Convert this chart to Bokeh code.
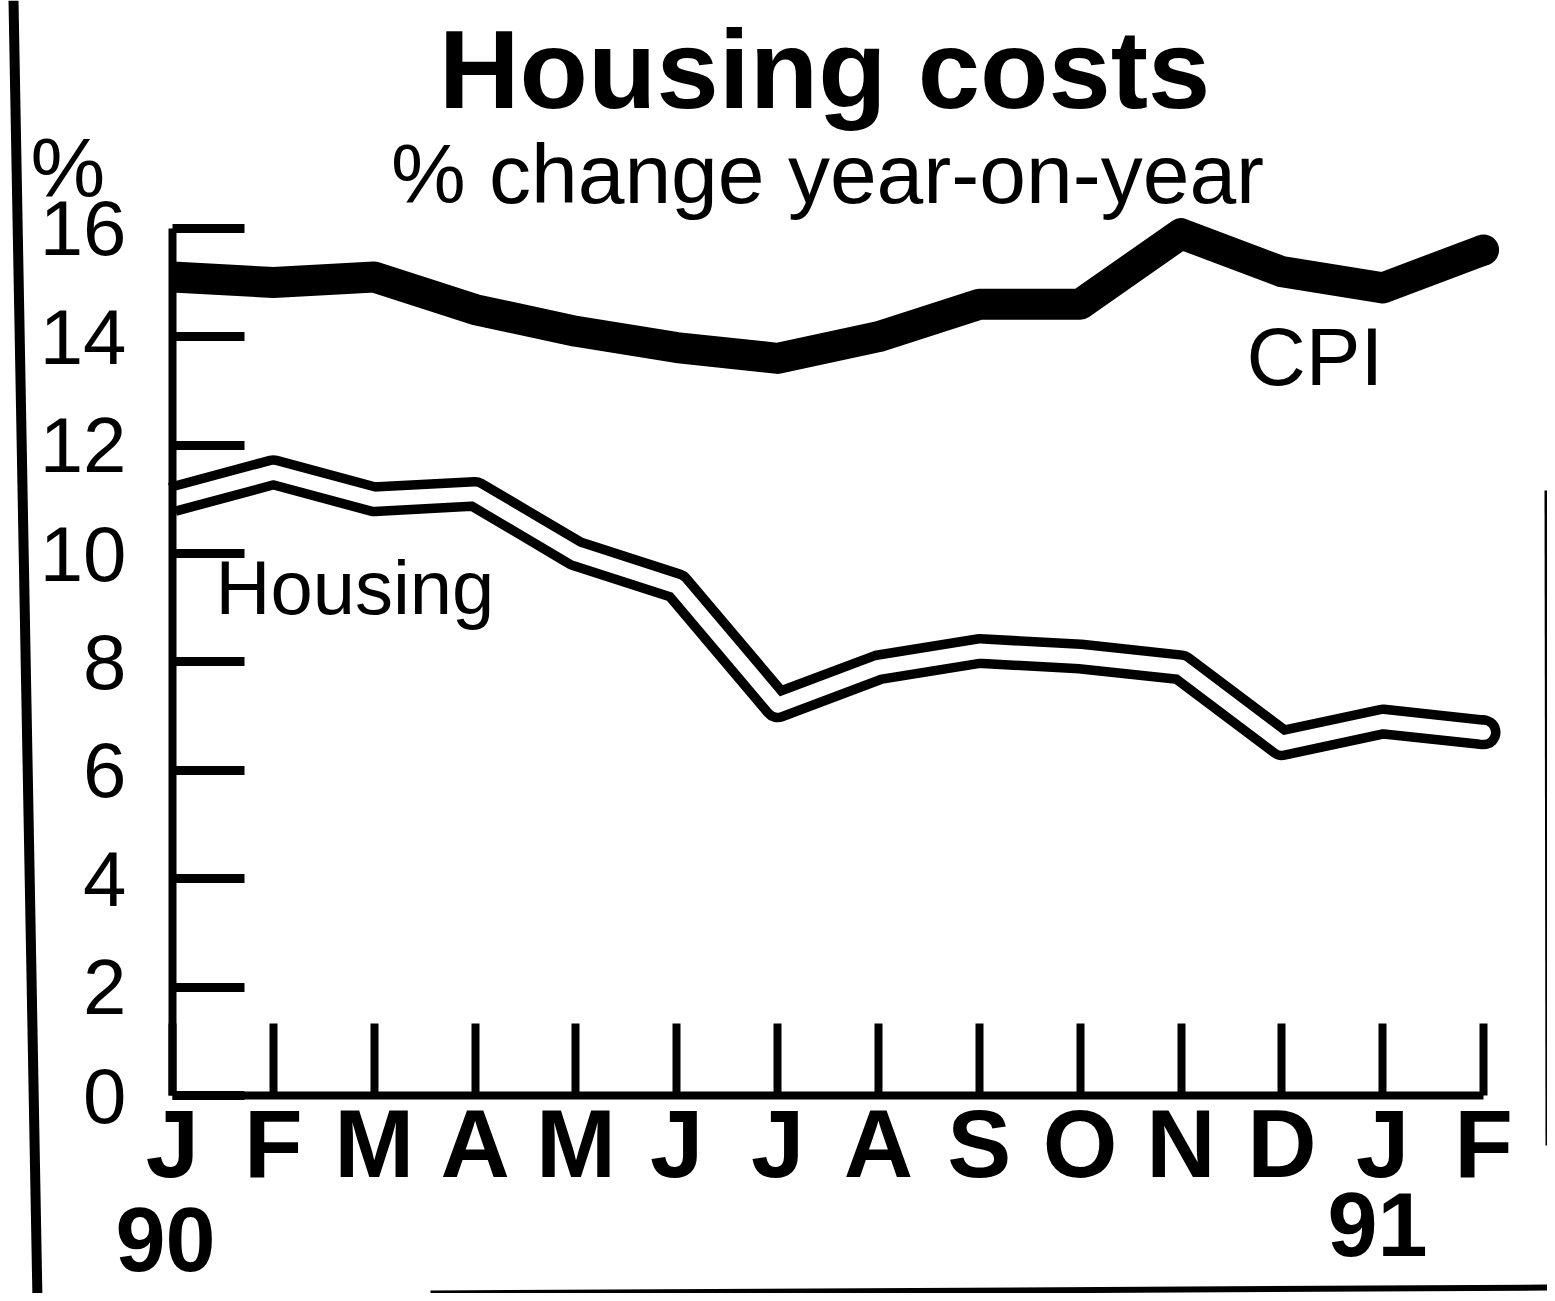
from bokeh.plotting import figure
from bokeh.models import FixedTicker, Label, PolyAnnotation, Range1d
from bokeh.embed import file_html
from bokeh.resources import INLINE

# ---- data ----
months = ["J", "F", "M", "A", "M", "J", "J", "A", "S", "O", "N", "D", "J", "F"]
month_index = list(range(len(months)))
cpi = [15.1, 15.0, 15.1, 14.5, 14.1, 13.8, 13.6, 14.0, 14.6, 14.6, 15.9, 15.2, 14.9, 15.6]
housing = [11.0, 11.5, 11.0, 11.1, 10.0, 9.4, 7.2, 7.9, 8.2, 8.1, 7.9, 6.5, 6.9, 6.7]
y_ticks = [0, 2, 4, 6, 8, 10, 12, 14, 16]
year_labels = {"90": 0, "91": 12}

FONT = "Liberation Sans"
W, H = 1547, 1293


# helpers converting reference picture pixels to data units (placement only)
def dx(px):
    return (px - 172) / 100.85


def dy(py):
    return (1095 - py) / 54.2


def base(py, size):
    # vertical anchor for a text whose baseline sits at picture row py
    return dy(py - 0.35 * size)


p = figure(width=W, height=H,
           x_range=Range1d(dx(0), dx(W)), y_range=Range1d(dy(H), dy(0)),
           output_backend="svg", toolbar_location=None,
           min_border=0, min_border_left=0, min_border_right=0,
           min_border_top=0, min_border_bottom=0)
p.title.visible = False
p.background_fill_color = "white"
p.border_fill_color = "white"
p.outline_line_color = None
p.xgrid.visible = False
p.ygrid.visible = False

# x axis (drawn inside the frame at y = 0)
xa = p.xaxis[0]
xa.fixed_location = 0
xa.bounds = (0, 13)
xa.ticker = FixedTicker(ticks=month_index)
xa.major_label_overrides = {i: m for i, m in enumerate(months)}
xa.major_tick_in = 72
xa.major_tick_out = 0
xa.major_tick_line_width = 8
xa.major_tick_line_color = "black"
xa.minor_tick_line_color = None
xa.axis_line_width = 8
xa.axis_line_color = "black"
xa.major_label_text_font = FONT
xa.major_label_text_font_style = "bold"
xa.major_label_text_font_size = "96px"
xa.major_label_text_color = "black"
xa.major_label_standoff = -6

# y axis (drawn inside the frame at x = 0)
ya = p.yaxis[0]
ya.fixed_location = 0
ya.bounds = (0, 16)
ya.ticker = FixedTicker(ticks=y_ticks)
ya.major_tick_in = 72
ya.major_tick_out = 0
ya.major_tick_line_width = 9
ya.major_tick_line_color = "black"
ya.minor_tick_line_color = None
ya.axis_line_width = 8
ya.axis_line_color = "black"
ya.major_label_text_font = FONT
ya.major_label_text_font_size = "78px"
ya.major_label_text_color = "black"
ya.major_label_standoff = 46

# series: butt caps at the axis, rounded ends at the last month
p.line(month_index, cpi, line_width=31, line_color="black",
       line_cap="butt", line_join="round")
p.scatter(month_index[-1:], cpi[-1:], marker="circle", size=31,
          fill_color="black", line_color=None)
p.line(month_index, housing, line_width=34, line_color="black",
       line_cap="butt", line_join="round")
p.scatter(month_index[-1:], housing[-1:], marker="circle", size=34,
          fill_color="black", line_color=None)
p.line(month_index, housing, line_width=15, line_color="white",
       line_cap="butt", line_join="round")
p.scatter(month_index[-1:], housing[-1:], marker="circle", size=15,
          fill_color="white", line_color=None)


# texts
def add_text(x, y, text, size, align="left", bold=False):
    p.add_layout(Label(x=x, y=y, text=text, text_align=align,
                       text_baseline="middle", text_font=FONT,
                       text_font_style="bold" if bold else "normal",
                       text_font_size=f"{size}px", text_color="black"))


add_text(dx(824), base(108, 112), "Housing costs", 112, "center", True)
add_text(dx(827), base(203, 84), "% change year-on-year", 84, "center")
add_text(dx(30), base(197, 84), "%", 84, "left")
add_text(dx(215), base(614, 76), "Housing", 76, "left")
add_text(dx(1246), base(385, 82), "CPI", 82, "left")
add_text(year_labels["90"] + dx(165), base(1270, 90), "90", 90, "center", True)
add_text(year_labels["91"] + dx(1377) - 12, base(1255, 90), "91", 90, "center", True)

# scan frame lines (decoration)
p.add_layout(PolyAnnotation(xs=[dx(8), dx(18), dx(42), dx(32)],
                            ys=[dy(0), dy(0), dy(1301), dy(1301)],
                            fill_color="black", fill_alpha=1, line_color=None))
p.add_layout(PolyAnnotation(xs=[dx(1544), dx(1548), dx(1549), dx(1545)],
                            ys=[dy(490), dy(490), dy(1145), dy(1145)],
                            fill_color="black", fill_alpha=1, line_color=None))
p.add_layout(PolyAnnotation(xs=[dx(430), dx(1560), dx(1560), dx(430)],
                            ys=[dy(1290), dy(1284), dy(1290), dy(1296)],
                            fill_color="black", fill_alpha=1, line_color=None))

open("out.html", "w").write(file_html(p, INLINE))
